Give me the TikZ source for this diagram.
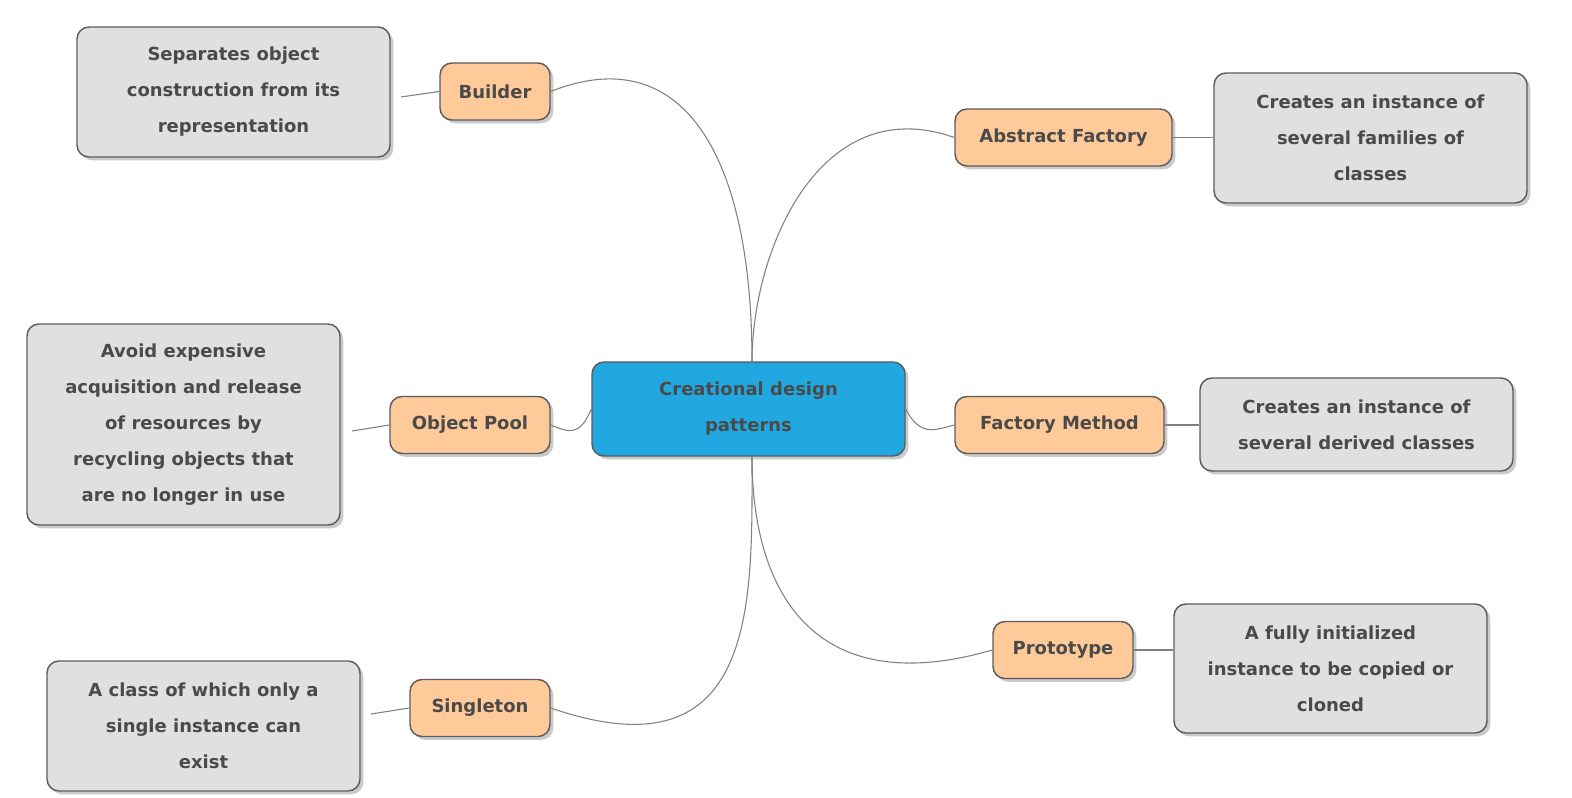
\documentclass[tikz,border=0pt]{standalone}
\usepackage{fontspec}
\setmainfont{DejaVu Sans}
\usetikzlibrary{shadows}
\definecolor{txt}{HTML}{4A4A4A}
\definecolor{bd}{HTML}{5C5C5C}
\definecolor{cen}{HTML}{22A8E0}
\definecolor{org}{HTML}{FFCA99}
\definecolor{gr}{HTML}{E0E0E0}
\begin{document}
\begin{tikzpicture}[x=0.75pt,y=-0.75pt,
  base/.style={draw=bd,line width=1.1pt,rounded corners=9pt,text=txt,font=\bfseries\fontsize{13.5}{27}\selectfont,align=center,inner sep=0pt,drop shadow={shadow xshift=2.5pt,shadow yshift=-2.5pt,fill=black!35,opacity=.6}},
  sz/.style 2 args={minimum width=#1*0.75pt,minimum height=#2*0.75pt},
  pat/.style={base,fill=org},
  desc/.style={base,fill=gr},
  con/.style={draw=black!50,line width=0.8pt}]
\useasboundingbox (0,0) rectangle (1572,798);
\node[base,fill=cen,sz={313}{94}] (c) at (748.5,409) {Creational design\\patterns};
\node[pat,sz={110}{57}] (b) at (495,91.5) {Builder};
\node[desc,sz={313}{130}] (bd) at (233.5,92) {Separates object\\construction from its\\representation};
\node[pat,sz={217}{57}] (af) at (1063.5,137.5) {Abstract Factory};
\node[desc,sz={313}{130}] (afd) at (1370.5,138) {Creates an instance of\\several families of\\classes};
\node[pat,sz={160}{57}] (op) at (470,425) {Object Pool};
\node[desc,sz={313}{201}] (opd) at (183.5,424.5) {Avoid expensive\\acquisition and release\\of resources by\\recycling objects that\\are no longer in use};
\node[pat,sz={209}{57}] (fm) at (1059.5,425) {Factory Method};
\node[desc,sz={313}{93}] (fmd) at (1356.5,424.5) {Creates an instance of\\several derived classes};
\node[pat,sz={140}{57}] (pr) at (1063,650) {Prototype};
\node[desc,sz={313}{129}] (prd) at (1330.5,668.5) {A fully initialized\\instance to be copied or\\cloned};
\node[pat,sz={140}{57}] (si) at (480,708) {Singleton};
\node[desc,sz={313}{130}] (sid) at (203.5,726) {A class of which only a\\single instance can\\exist};
\coordinate (ct) at (752,362);
\coordinate (cb) at (752,456);
\coordinate (bl) at (401,97);
\coordinate (opl) at (352,431);
\coordinate (sil) at (371,714);
\draw[con] (b.east) .. controls (680,40) and (752,150) .. (ct);
\draw[con] (af.west) .. controls (820,90) and (752,250) .. (ct);
\draw[con] (si.east) .. controls (760,780) and (752,600) .. (cb);
\draw[con] (pr.west) .. controls (820,700) and (752,600) .. (cb);
\draw[con] (op.east) .. controls (570,433) and (580,436) .. (c.west);
\draw[con] (c.east) .. controls (920,437) and (935,430) .. (fm.west);
\draw[con] (bl) -- (b.west);
\draw[con] (opl) -- (op.west);
\draw[con] (sil) -- (si.west);
\draw[con] (af.east) -- (afd.west|-af.east);
\draw[con] (fm.east) -- (fmd.west|-fm.east);
\draw[con] (pr.east) -- (prd.west|-pr.east);
\end{tikzpicture}
\end{document}
